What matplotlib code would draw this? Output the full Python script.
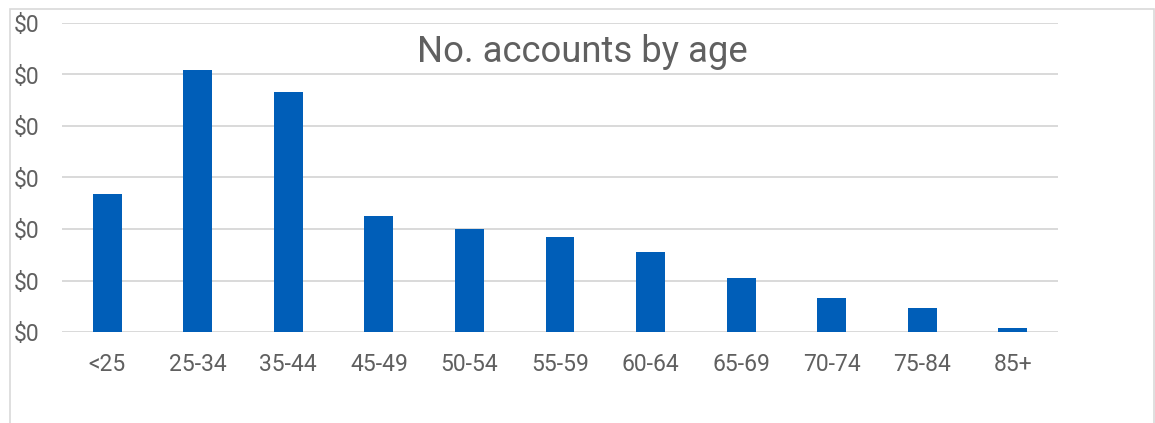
import matplotlib
matplotlib.use("Agg")
import matplotlib.pyplot as plt
from matplotlib.ticker import FuncFormatter
from matplotlib.patches import Rectangle

categories = ["<25", "25-34", "35-44", "45-49", "50-54", "55-59", "60-64", "65-69", "70-74", "75-84", "85+"]
accounts = [2.68, 5.09, 4.66, 2.25, 2.0, 1.84, 1.55, 1.05, 0.66, 0.47, 0.08]
yticks = [0, 1, 2, 3, 4, 5, 6]

plt.rcParams['font.family'] = ['Roboto', 'DejaVu Sans']
text_color = '#606060'
grid_color = '#d9d9d9'
bar_color = '#005EB8'

W, H = 1155, 423
fig = plt.figure(figsize=(W / 100, H / 100), dpi=100)
ax = fig.add_axes([62 / W, 1 - 332 / H, (1058 - 62) / W, (332 - 23) / H])

x = list(range(len(categories)))
ax.bar(x, accounts, width=0.32, color=bar_color, zorder=3)
ax.set_xlim(-0.5, len(categories) - 0.5)
ax.set_ylim(0, 6)
ax.set_yticks(yticks)
ax.yaxis.set_major_formatter(FuncFormatter(lambda v, p: "$0"))
ax.set_xticks(x)
ax.set_xticklabels(categories)
ax.grid(axis='y', color=grid_color, linewidth=1.4, zorder=0)
for s in ax.spines.values():
    s.set_visible(False)
ax.tick_params(axis='both', length=0, labelsize=16.5, labelcolor=text_color)
ax.tick_params(axis='y', pad=16.5)
ax.tick_params(axis='x', pad=15)
for lab in ax.get_yticklabels():
    lab.set_horizontalalignment('right')

ax.text(0.522, 0.906, "No. accounts by age", transform=ax.transAxes, ha='center', va='center',
        fontsize=26.3, color=text_color, zorder=5)

fig.patches.append(Rectangle((9.5 / W, -0.1), (1154 - 9.5) / W, 1.1 - 9 / H,
                             transform=fig.transFigure, fill=False, edgecolor=grid_color,
                             linewidth=1.2))

fig.savefig("out.png", dpi=100)
